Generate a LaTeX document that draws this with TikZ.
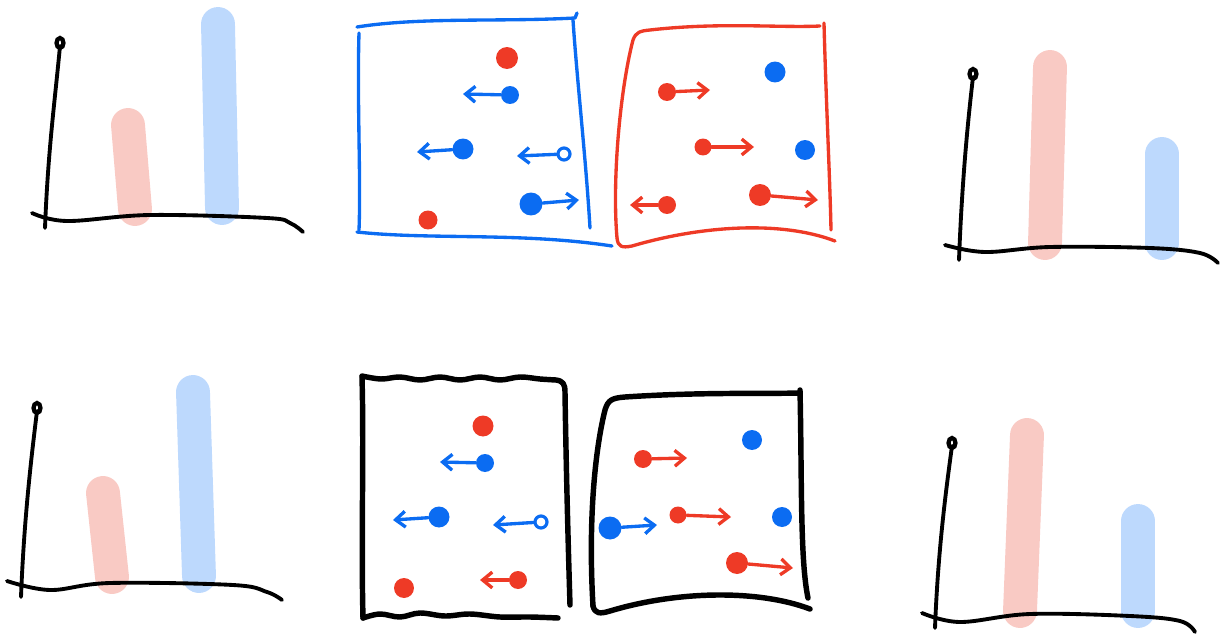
\documentclass[tikz,border=0pt]{standalone}
\usepackage{tikz}
\usetikzlibrary{arrows.meta}
\definecolor{inkblue}{HTML}{0B6CF2}
\definecolor{inkred}{HTML}{EE3A26}
\definecolor{barred}{HTML}{F9CAC4}
\definecolor{barblue}{HTML}{BDD9FD}

\begin{document}
\begin{tikzpicture}[x=0.02cm, y=-0.02cm,
    axis/.style={line width=2.2pt, line cap=round, line join=round},
    tip/.style={line width=2.4pt},
    bar/.style={line width=19.3pt, line cap=round},
    frame/.style={line width=1.9pt, line cap=round, line join=round},
    heavyframe/.style={line width=3.1pt, line cap=round, line join=round},
    dot/.style={circle, fill, inner sep=0pt, minimum size=#1},
    dot/.default=0.4cm,
    ring/.style={circle, draw, line width=1.8pt, inner sep=0pt, minimum size=0.24cm},
    move/.style={-{Straight Barb[length=5.5pt, width=9pt]}, line width=1.9pt, line cap=round}
]
    \useasboundingbox (0,0) rectangle (1225,639);

    % charts: bars first, then axes
    \draw[bar, barred] (128,125) -- (135,209);
    \draw[bar, barblue] (218,24) -- (222,208);
    \draw[axis] (45,228) .. controls (48,150) and (55,100) .. (60,46);
    \draw[tip] (60,43) ellipse (3.5 and 5);
    \draw[axis] plot[smooth, tension=0.6] coordinates {(32,213) (67,221) (150,215) (267,218) (290,223) (303,232)};

    \draw[bar, barred] (1050,67) -- (1045,243);
    \draw[bar, barblue] (1162,154) -- (1162,243);
    \draw[axis] (959,260) .. controls (962,180) and (968,120) .. (973,77);
    \draw[tip] (973,74) ellipse (3.5 and 5);
    \draw[axis] plot[smooth, tension=0.6] coordinates {(945,245) (985,252) (1050,247) (1150,248) (1200,253) (1218,263)};

    \draw[bar, barred] (103,493) -- (112,577);
    \draw[bar, barblue] (193,392) -- (199,576);
    \draw[axis] (21,597) .. controls (24,520) and (31,460) .. (37,411);
    \draw[tip] (37,408) ellipse (3.5 and 5);
    \draw[axis] plot[smooth, tension=0.6] coordinates {(7,581) (50,590) (110,583) (233,585) (267,592) (282,600)};

    \draw[bar, barred] (1027,435) -- (1020,611);
    \draw[bar, barblue] (1138,521) -- (1138,611);
    \draw[axis] (935,628) .. controls (938,550) and (946,490) .. (952,446);
    \draw[tip] (952,443) ellipse (3.5 and 5);
    \draw[axis] plot[smooth, tension=0.6] coordinates {(922,613) (960,622) (1030,614) (1130,616) (1180,621) (1195,632)};

    % blue frame
    \draw[frame, inkblue] (357,27) .. controls (420,17) and (500,22) .. (575,18) -- (577,13);
    \draw[frame, inkblue] (573,20) .. controls (577,80) and (586,160) .. (590,228);
    \draw[frame, inkblue] (359,33) .. controls (357,100) and (361,180) .. (359,230);
    \draw[frame, inkblue] (357,232) .. controls (430,240) and (520,232) .. (612,246);

    % red frame
    \draw[frame, inkred] (617,238) .. controls (612,180) and (620,90) .. (633,40)
        .. controls (636,32) and (640,31) .. (650,30) .. controls (720,22) and (780,28) .. (820,26);
    \draw[frame, inkred] (824,23) .. controls (826,100) and (830,180) .. (831,230);
    \draw[frame, inkred] (617,238) .. controls (618,247) and (622,248) .. (632,246)
        .. controls (700,226) and (780,220) .. (835,241);

    % black frames
    \draw[heavyframe] plot[smooth, tension=0.6] coordinates {(362,376) (381,379) (400,377) (420,380) (440,377) (460,380) (480,377) (500,380) (520,377) (540,379) (556,380)}
        .. controls (563,381) and (565,384) .. (565,392) .. controls (566,460) and (568,540) .. (570,605);
    \draw[heavyframe] (362,377) .. controls (364,450) and (361,540) .. (363,618);
    \draw[heavyframe] plot[smooth, tension=0.6] coordinates {(363,618) (380,614) (400,617) (420,613) (445,616) (470,614) (500,617) (530,617) (558,618)};

    \draw[heavyframe] (593,606) .. controls (588,520) and (595,450) .. (605,410)
        .. controls (608,400) and (612,398) .. (625,397) .. controls (700,392) and (760,394) .. (800,393);
    \draw[heavyframe] (800,390) .. controls (802,480) and (800,560) .. (808,598);
    \draw[heavyframe] (593,606) .. controls (595,614) and (600,614) .. (610,611)
        .. controls (680,590) and (760,590) .. (810,609);

    % dots in the blue frame
    \node[dot=0.44cm, inkred] (ar1) at (507,58) {};
    \node[dot=0.36cm, inkblue] (ab1) at (510,95) {};
    \node[dot=0.42cm, inkblue] (ab2) at (463,149) {};
    \node[ring, inkblue] (ab3) at (564,154) {};
    \node[dot=0.46cm, inkblue] (ab4) at (531,204) {};
    \node[dot=0.38cm, inkred] (ar2) at (428,220) {};
    \coordinate (ab1t) at (463,94);
    \coordinate (ab2t) at (417,152);
    \coordinate (ab3t) at (517,156);
    \coordinate (ab4t) at (579,200);
    \draw[move, inkblue] (ab1) -- (ab1t);
    \draw[move, inkblue] (ab2) -- (ab2t);
    \draw[move, inkblue] (ab3) -- (ab3t);
    \draw[move, inkblue] (ab4) -- (ab4t);

    % dots in the red frame
    \node[dot=0.36cm, inkred] (br1) at (667,92) {};
    \node[dot=0.42cm, inkblue] (bb1) at (775,72) {};
    \node[dot=0.34cm, inkred] (br2) at (703,147) {};
    \node[dot=0.40cm, inkblue] (bb2) at (805,150) {};
    \node[dot=0.36cm, inkred] (br3) at (667,205) {};
    \node[dot=0.44cm, inkred] (br4) at (760,195) {};
    \coordinate (br1t) at (710,90);
    \coordinate (br2t) at (754,147);
    \coordinate (br3t) at (630,205);
    \coordinate (br4t) at (818,200);
    \draw[move, inkred] (br1) -- (br1t);
    \draw[move, inkred] (br2) -- (br2t);
    \draw[move, inkred] (br3) -- (br3t);
    \draw[move, inkred] (br4) -- (br4t);

    % dots in the left black frame
    \node[dot=0.42cm, inkred] (cr1) at (483,426) {};
    \node[dot=0.36cm, inkblue] (cb1) at (485,463) {};
    \node[dot=0.42cm, inkblue] (cb2) at (439,517) {};
    \node[ring, inkblue] (cb3) at (541,522) {};
    \node[dot=0.40cm, inkred] (cr2) at (404,588) {};
    \node[dot=0.36cm, inkred] (cr3) at (518,580) {};
    \coordinate (cb1t) at (440,462);
    \coordinate (cb2t) at (393,520);
    \coordinate (cb3t) at (493,525);
    \coordinate (cr3t) at (480,580);
    \draw[move, inkblue] (cb1) -- (cb1t);
    \draw[move, inkblue] (cb2) -- (cb2t);
    \draw[move, inkblue] (cb3) -- (cb3t);
    \draw[move, inkred] (cr3) -- (cr3t);

    % dots in the right black frame
    \node[dot=0.36cm, inkred] (dr1) at (643,459) {};
    \node[dot=0.40cm, inkblue] (db1) at (752,440) {};
    \node[dot=0.46cm, inkblue] (db2) at (610,528) {};
    \node[dot=0.34cm, inkred] (dr2) at (678,515) {};
    \node[dot=0.40cm, inkblue] (db3) at (782,517) {};
    \node[dot=0.44cm, inkred] (dr3) at (737,563) {};
    \coordinate (dr1t) at (687,458);
    \coordinate (db2t) at (657,525);
    \coordinate (dr2t) at (731,517);
    \coordinate (dr3t) at (793,568);
    \draw[move, inkred] (dr1) -- (dr1t);
    \draw[move, inkblue] (db2) -- (db2t);
    \draw[move, inkred] (dr2) -- (dr2t);
    \draw[move, inkred] (dr3) -- (dr3t);
\end{tikzpicture}
\end{document}
